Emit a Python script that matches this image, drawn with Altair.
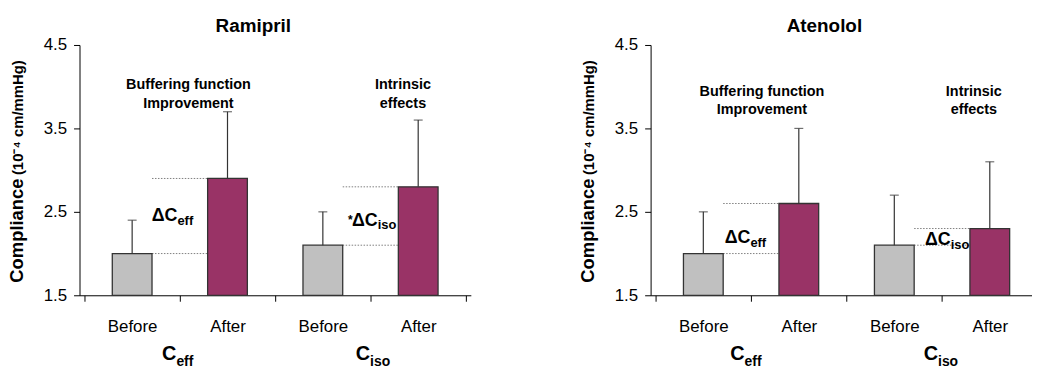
import altair as alt
import pandas as pd

FONT = "Liberation Sans"

# ---- data ----
categories = ["Before Ceff", "After Ceff", "Before Ciso", "After Ciso"]
x_tick_labels = ["Before", "After", "Before", "After"]
phases = ["Before", "After", "Before", "After"]
drug_names = ["Ramipril", "Atenolol"]

ramipril_mean = [2.0, 2.9, 2.1, 2.8]
ramipril_sd = [0.4, 0.8, 0.4, 0.8]
atenolol_mean = [2.0, 2.6, 2.1, 2.3]
atenolol_sd = [0.5, 0.9, 0.6, 0.8]

y_ticks = [1.5, 2.5, 3.5, 4.5]
y_domain = [1.5, 4.5]
bar_colors = ["#c0c0c0", "#993366"]

# annotation texts: (text, x in category units, y in data units, font size, align)
notes_ramipril = [
    ("Buffering function", 1.09, 3.976, 14.5, "center"),
    ("Improvement", 1.09, 3.75, 14.5, "center"),
    ("Intrinsic", 3.34, 3.976, 14.5, "center"),
    ("effects", 3.34, 3.75, 14.5, "center"),
    ("ΔC", 0.975, 2.393, 18, "right"),
    ("eff", 0.975, 2.345, 13, "left"),
    ("*", 2.812, 2.36, 12, "right"),
    ("ΔC", 3.076, 2.333, 18, "right"),
    ("iso", 3.076, 2.298, 13, "left"),
    ("C", 0.964, 0.726, 20, "right"),
    ("eff", 0.964, 0.655, 14, "left"),
    ("C", 2.995, 0.726, 20, "right"),
    ("iso", 2.995, 0.655, 14, "left"),
]
notes_atenolol = [
    ("Buffering function", 1.114, 3.893, 14.5, "center"),
    ("Improvement", 1.114, 3.667, 14.5, "center"),
    ("Intrinsic", 3.333, 3.893, 14.5, "center"),
    ("effects", 3.333, 3.667, 14.5, "center"),
    ("ΔC", 0.993, 2.131, 18, "right"),
    ("eff", 0.993, 2.083, 13, "left"),
    ("ΔC", 3.09, 2.107, 18, "right"),
    ("iso", 3.09, 2.06, 13, "left"),
    ("C", 0.932, 0.726, 20, "right"),
    ("eff", 0.932, 0.655, 14, "left"),
    ("C", 2.958, 0.726, 20, "right"),
    ("iso", 2.958, 0.655, 14, "left"),
]

PLOT_H = 252
LABEL_EXPR = "datum.value % 1 == 0 ? '' : " + str(x_tick_labels) + "[floor(datum.value)]"

y_axis = alt.Axis(
    values=y_ticks,
    format=".1f",
    title="Compliance",
    titleX=-57,
    titleY=134,
    titleAngle=270,
    titleAlign="right",
    titleBaseline="alphabetic",
    titleFontSize=18.5,
    titleFontWeight="bold",
    titleFont=FONT,
    titleColor="black",
    tickSize=6,
    labelPadding=7,
    labelFontSize=17,
    labelFont=FONT,
    labelColor="black",
    domainColor="black",
    tickColor="black",
    grid=False,
)


def make_x_axis(x_max):
    vals = [v / 2 for v in range(0, int(x_max * 2) + 1)]
    return alt.Axis(
        title=None,
        values=vals,
        labelExpr=LABEL_EXPR,
        tickOpacity={"condition": {"test": "datum.value % 1 != 0", "value": 0}, "value": 1},
        tickSize=6,
        labelAngle=0,
        labelFontSize=17,
        labelFont=FONT,
        labelColor="black",
        labelBaseline="alphabetic",
        labelPadding=30,
        labelFlush=False,
        labelOverlap=False,
        domainColor="black",
        tickColor="black",
        grid=False,
    )


def Y(field):
    return alt.Y(f"{field}:Q", scale=alt.Scale(domain=y_domain, zero=False, nice=False), axis=y_axis)


def panel(name, means, sds, notes, x_max, width, title_dx):
    x_axis = make_x_axis(x_max)

    def X(field="xv"):
        return alt.X(f"{field}:Q", scale=alt.Scale(domain=[0, x_max], zero=False, nice=False), axis=x_axis)

    pos = [i + 0.5 for i in range(len(categories))]
    df = pd.DataFrame({
        "cat": categories,
        "xv": pos,
        "phase": phases,
        "mean": means,
        "top": [m + s for m, s in zip(means, sds)],
    })
    seg_rows = []
    for i in (0, 2):
        for j in (i, i + 1):
            seg_rows.append({"xv": pos[i], "xv2": pos[i + 1], "yv": means[j]})
    segs = pd.DataFrame(seg_rows)

    dotted = alt.Chart(segs).mark_rule(
        color="#808080", strokeWidth=1, strokeDash=[1.5, 1.5], xOffset=20, x2Offset=-20
    ).encode(x=X(), x2=alt.X2("xv2:Q"), y=Y("yv"))

    bars = alt.Chart(df).mark_bar(size=40, stroke="#333333", strokeWidth=1.3).encode(
        x=X(), y=Y("mean"), y2=alt.datum(y_domain[0]),
        color=alt.Color("phase:N", scale=alt.Scale(domain=["Before", "After"], range=bar_colors), legend=None),
    )
    err = alt.Chart(df).mark_rule(color="#333333", strokeWidth=1.2).encode(
        x=X(), y=Y("mean"), y2="top:Q"
    )
    cap = alt.Chart(df).mark_tick(size=9, thickness=1.2, color="#333333", orient="horizontal").encode(
        x=X(), y=Y("top")
    )

    layers = [dotted, bars, err, cap]
    for text, xv, yv, size, align in notes:
        ndf = pd.DataFrame({"xv": [xv], "yv": [yv], "label": [text]})
        layers.append(
            alt.Chart(ndf).mark_text(
                fontSize=size, fontWeight="bold", align=align, baseline="alphabetic",
                font=FONT, color="black",
            ).encode(x=X(), y=Y("yv"), text="label:N")
        )
    units = alt.Chart(pd.DataFrame({"label": ["(10⁻⁴ cm/mmHg)"]})).mark_text(
        angle=270, align="left", baseline="alphabetic", fontSize=15, fontWeight="bold",
        font=FONT, color="black",
    ).encode(x=alt.value(-57), y=alt.value(131), text="label:N")
    layers.append(units)

    return alt.layer(*layers).properties(
        width=width, height=PLOT_H,
        title=alt.TitleParams(name, fontSize=19, fontWeight="bold", font=FONT, color="black",
                              anchor="middle", dx=title_dx, baseline="alphabetic", offset=-15),
    )


left = panel(drug_names[0], ramipril_mean, ramipril_sd, notes_ramipril, 4.0, 394, -22)
right = panel(drug_names[1], atenolol_mean, atenolol_sd, notes_atenolol, 3.89, 384, -17)

chart = alt.hconcat(left, right, spacing=109).properties(
    padding={"left": 0, "top": 8, "right": 0, "bottom": 0}
).configure_view(stroke=None)

chart.save("out.html", embed_options={"renderer": "svg", "actions": False})
